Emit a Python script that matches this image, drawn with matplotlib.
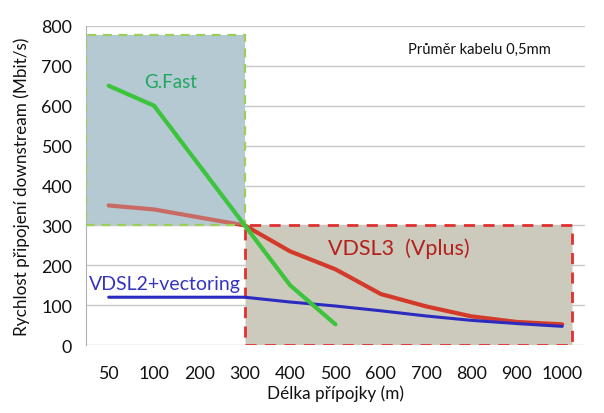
import matplotlib
matplotlib.use("Agg")
import matplotlib.pyplot as plt
from matplotlib.patches import Rectangle

plt.rcParams['font.family'] = ['Lato', 'DejaVu Sans']

categories = ['50', '100', '200', '300', '400', '500', '600', '700', '800', '900', '1000']
gfast = [650, 600, 450, 300, 150, 52]
vdsl3 = [350, 340, 320, 300, 235, 190, 128, 97, 72, 58, 52]
vdsl2 = [120, 120, 120, 120, 108, 98, 86, 73, 62, 54, 47]

fig = plt.figure(figsize=(6.04, 4.14), dpi=100)
ax = fig.add_axes([0.1424, 0.164, 0.826, 0.771])
x = list(range(len(categories)))

ax.set_xlim(-0.5, len(categories) - 0.5)
ax.set_ylim(0, 800)
ax.set_yticks(range(0, 801, 100))
ax.set_xticks(x)
ax.set_xticklabels(categories)
ax.grid(axis='y', color='#c8c8c8', linewidth=1)
ax.set_axisbelow(True)
for s in ['top', 'right', 'bottom']:
    ax.spines[s].set_visible(False)
ax.spines['left'].set_color('#b0b0b0')
ax.tick_params(axis='both', length=0, labelsize=12.8, colors='#111111')
ax.tick_params(axis='x', pad=14)
ax.tick_params(axis='y', pad=10)

box_col = '#b4c9d2'
# opaque blue box under the red line, translucent layer above it
ax.add_patch(Rectangle((-0.5, 300), 3.5, 478, facecolor=box_col, edgecolor='none', zorder=1.5))
ax.plot(x, vdsl3, color='#d43a2a', linewidth=3, zorder=3, solid_capstyle='round')
ax.add_patch(Rectangle((-0.5, 300), 3.5, 478, facecolor=box_col, alpha=0.35,
                       edgecolor='none', zorder=4))
ax.add_patch(Rectangle((-0.5, 300), 3.5, 478, facecolor='none', edgecolor='#9bcf5a',
                       linestyle=(0, (4, 3)), linewidth=1.6, zorder=4))
ax.add_patch(Rectangle((3, 0), 7.22, 300, facecolor='#cbcabd', edgecolor='#e03030',
                       linestyle=(0, (4, 3)), linewidth=2, zorder=2))

ax.plot(x[:len(gfast)], gfast, color='#3cc43c', linewidth=3, zorder=6, solid_capstyle='round')
ax.plot(x, vdsl2, color='#2b2bc0', linewidth=2.2, zorder=5, solid_capstyle='round')

ax.text(1.36, 660, 'G.Fast', color='#1fa860', fontsize=13.5, ha='center', va='center', zorder=7)
ax.text(4.84, 245, 'VDSL3  (Vplus)', color='#b5201b', fontsize=15.5, ha='left', va='center', zorder=7)
ax.text(-0.44, 155, 'VDSL2+vectoring', color='#3535c0', fontsize=14, ha='left', va='center', zorder=7)
ax.text(6.6, 742, 'Průměr kabelu 0,5mm', color='#111111', fontsize=10.6, ha='left', va='center', zorder=7)

ax.set_xlabel('Délka přípojky (m)', fontsize=12.3, labelpad=3, color='#111111')
ax.set_ylabel('Rychlost připojení downstream (Mbit/s)', fontsize=12.3, labelpad=8, color='#111111')

fig.savefig('out.png', dpi=100)
